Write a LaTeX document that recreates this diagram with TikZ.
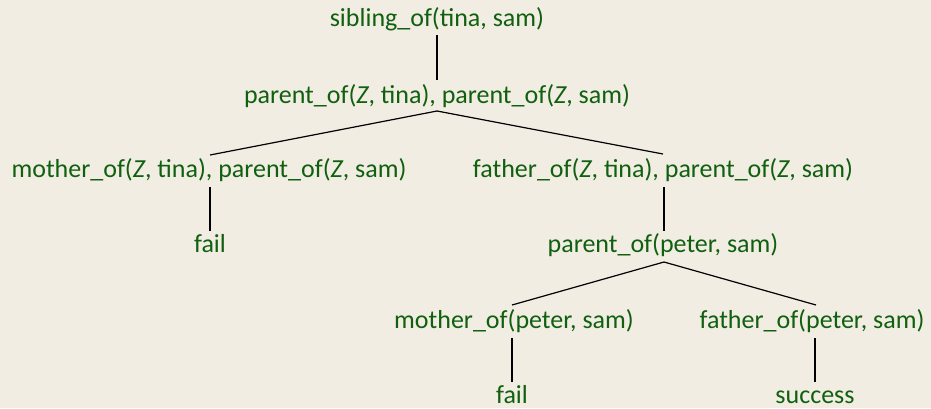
\documentclass[tikz,border=0pt]{standalone}
\usepackage{fontspec}
\setmainfont{Carlito}
\definecolor{bg}{RGB}{242,237,226}
\definecolor{tg}{RGB}{16,96,16}
\begin{document}
\begin{tikzpicture}[x=1pt,y=-1pt,
  lbl/.style={text=tg,font=\fontsize{26}{31}\selectfont,inner sep=0pt,anchor=base},
  edge/.style={black,line width=1.2pt}]
\fill[bg] (0,0) rectangle (931,408);
\useasboundingbox (0,0) rectangle (931,408);
% nodes
\node[lbl] (root) at (437,26) {sibling\_of(tina, sam)};
\node[lbl] (p1) at (437,103) {parent\_of(\textit{Z}, tina), parent\_of(\textit{Z}, sam)};
\node[lbl] (m1) at (209,177) {mother\_of(\textit{Z}, tina), parent\_of(\textit{Z}, sam)};
\node[lbl] (f1) at (663,177) {father\_of(\textit{Z}, tina), parent\_of(\textit{Z}, sam)};
\node[lbl] (fail1) at (210,252) {fail};
\node[lbl] (p2) at (663,252) {parent\_of(peter, sam)};
\node[lbl] (m2) at (514,328) {mother\_of(peter, sam)};
\node[lbl] (f2) at (812,328) {father\_of(peter, sam)};
\node[lbl] (fail2) at (512,403) {fail};
\node[lbl] (succ) at (815,403) {success};
% connector end points
\coordinate (rootb) at (437,35);
\coordinate (p1t) at (437,80);
\coordinate (p1b) at (437,111);
\coordinate (m1t) at (210,155);
\coordinate (f1t) at (663,154);
\coordinate (m1b) at (210,187);
\coordinate (fail1t) at (210,231);
\coordinate (f1b) at (664,187);
\coordinate (p2t) at (664,231);
\coordinate (p2b) at (664,262);
\coordinate (m2t) at (512,305);
\coordinate (f2t) at (816,305);
\coordinate (m2b) at (512,338);
\coordinate (fail2t) at (512,382);
\coordinate (f2b) at (815,338);
\coordinate (succt) at (815,382);
% connectors
\draw[edge] (rootb) -- (p1t);
\draw[edge] (p1b) -- (m1t);
\draw[edge] (p1b) -- (f1t);
\draw[edge] (m1b) -- (fail1t);
\draw[edge] (f1b) -- (p2t);
\draw[edge] (p2b) -- (m2t);
\draw[edge] (p2b) -- (f2t);
\draw[edge] (m2b) -- (fail2t);
\draw[edge] (f2b) -- (succt);
\end{tikzpicture}
\end{document}
